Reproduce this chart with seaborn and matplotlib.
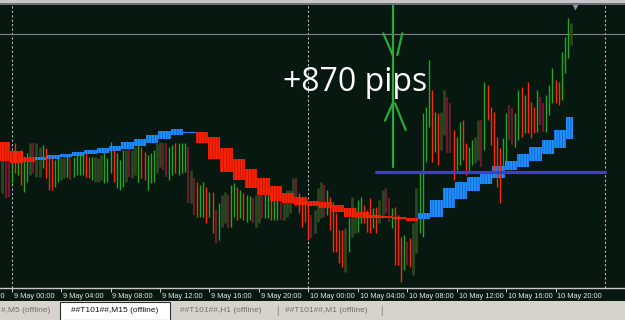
import matplotlib
matplotlib.use("Agg")
import matplotlib.pyplot as plt
import matplotlib.transforms as mtransforms
from matplotlib.patches import Rectangle
import numpy as np
import pandas as pd
import seaborn as sns

# ---------------- data ----------------
# M15 bars, index 0 = 9 May 00:00
first_bar = -3
bar_kind = list(
    "dmmgrgrggd" "mddgrrrggd" "dgmggggrrg" "dddgggrggg" "dmddgrrggg"
    "ddmmggrggg" "mdmrggrgrm" "gddmggrgrg" "gmddmggrgg" "mddddmrrrr"
    "mdddmgrrrr" "rdgddggrrr" "grddmmgrrr" "gmrddggggr" "grddmmrggr"
    "rggddmgrrr" "rrggmmggrg" "rrrgmmgggr" "rgggd"
)
bar_high = [
    140, 140, 140, 143, 157, 147, 150, 140, 147, 157,
    157, 157, 153, 155, 152, 143, 142, 140, 143, 142,
    143, 145, 143, 143, 147, 148, 148, 147, 143, 143,
    143, 142, 145, 148, 142, 158, 150, 147, 140, 150,
    150, 152, 150, 153, 155, 153, 148, 145, 147, 150,
    157, 158, 157, 157, 153, 155, 157, 157, 157, 157,
    153, 130, 122, 118, 115, 118, 113, 108, 108, 90,
    97, 105, 108, 105, 115, 117, 113, 110, 107, 105,
    104, 102, 105, 107, 105, 107, 110, 107, 108, 103,
    107, 105, 110, 110, 122, 122, 107, 103, 100, 98,
    85, 90, 112, 118, 115, 110, 103, 98, 87, 70,
    70, 72, 82, 103, 93, 100, 103, 95, 90, 102,
    92, 93, 100, 110, 112, 102, 92, 93, 85, 63,
    65, 58, 62, 77, 112, 127, 187, 193, 240, 210,
    188, 187, 188, 210, 203, 197, 170, 163, 178, 180,
    157, 153, 160, 163, 180, 180, 218, 215, 193, 188,
    163, 152, 162, 187, 195, 192, 187, 210, 213, 205,
    218, 198, 193, 210, 203, 197, 205, 215, 232, 220,
    218, 248, 263, 282, 277,
]
bar_low = [
    107, 102, 103, 117, 127, 125, 115, 108, 118, 125,
    127, 123, 123, 132, 122, 110, 110, 113, 118, 120,
    122, 123, 120, 123, 125, 125, 125, 123, 122, 120,
    118, 118, 120, 117, 118, 127, 118, 112, 110, 113,
    118, 123, 122, 125, 118, 122, 120, 110, 117, 118,
    127, 133, 130, 123, 120, 125, 127, 125, 127, 128,
    97, 97, 85, 83, 83, 83, 77, 83, 67, 57,
    60, 73, 77, 72, 73, 83, 80, 82, 80, 78,
    80, 77, 73, 77, 82, 82, 82, 80, 80, 80,
    80, 80, 83, 87, 97, 93, 87, 73, 78, 60,
    62, 67, 78, 82, 83, 85, 70, 48, 48, 37,
    33, 28, 48, 63, 67, 68, 77, 77, 68, 67,
    72, 67, 77, 82, 87, 78, 72, 35, 35, 18,
    30, 35, 33, 25, 47, 67, 63, 138, 173, 138,
    148, 135, 150, 165, 147, 147, 120, 130, 135, 140,
    125, 127, 135, 137, 140, 133, 150, 180, 155, 130,
    113, 97, 133, 133, 160, 155, 153, 160, 163, 167,
    167, 162, 167, 168, 175, 168, 168, 185, 197, 197,
    195, 200, 227, 242, 255,
]

# H1 smoothed blocks (hour index, 0 = 9 May 00:00)
first_block = -1
block_dir = list("ddd" "uuuuuuuuuuuuu" "dddddddddddddddddd" "uuuuuuuuuuuuu")
block_high = [158, 149, 143,
              143, 145, 146, 148, 150, 152, 154, 158, 161, 165, 169, 171, 168.5,
              168, 163, 152, 141, 131, 122, 114, 107, 103, 99, 98, 95, 92, 88, 85, 84, 83, 82,
              87, 100, 112, 118, 123, 127, 134, 139, 146, 153, 160, 170, 183]
block_low = [139, 137, 138,
             140, 141, 143, 144, 146, 147, 149, 151, 154, 157, 161, 165, 167.5,
             157, 141, 128, 120, 112, 105, 99, 97, 95, 94, 92, 88, 83, 82, 82, 82, 81, 79,
             81, 83, 92, 101, 109, 116, 122, 130, 133, 139, 146, 152, 161]

tick_bars = [-16, 0, 16, 32, 48, 64, 80, 96, 112, 128, 144, 160, 176]
tick_labels = ["8 May 20:00", "9 May 00:00", "9 May 04:00", "9 May 08:00",
               "9 May 12:00", "9 May 16:00", "9 May 20:00", "10 May 00:00",
               "10 May 04:00", "10 May 08:00", "10 May 12:00", "10 May 16:00",
               "10 May 20:00"]
day_separators = [0, 96, 192]

level_price = 128.5          # support level (blue line)
level_start_bar = 118
level_end_bar = 192
top_price = 266              # current price line
arrow_bar = 123.3
arrow_low, arrow_high = 133, 295
gain_text = "+870 pips"
text_bar, text_price = 87.8, 209
shift_marker = (182.3, 293.5)

tab_names = ["#,M5 (offline)", "##T101##,M15 (offline)",
             "##T101##,H1 (offline)", "##T101##,M1 (offline)"]

# ---------------- style ----------------
BG = "#06180f"
sns.set_theme(style="dark", rc={"axes.facecolor": BG, "figure.facecolor": BG})
plt.rcParams["font.family"] = ["Liberation Sans", "DejaVu Sans"]
plt.rcParams["lines.scale_dashes"] = False
plt.rcParams["hatch.linewidth"] = 0.6

PX = 3.09  # pixels per bar

fig = plt.figure(figsize=(6.25, 3.2), dpi=100, facecolor=BG)
ax = fig.add_axes([0, 32 / 320, 1, 283 / 320])
ax.set_facecolor(BG)

# frame top
fig.patches.append(Rectangle((0, 1 - 3 / 320), 1, 3 / 320, transform=fig.transFigure,
                             facecolor="#c8c8c8", edgecolor="none", zorder=0))
fig.patches.append(Rectangle((0, 1 - 5 / 320), 1, 2 / 320, transform=fig.transFigure,
                             facecolor="#6e6e7e", edgecolor="none", zorder=0))

# separators and price line
for s in day_separators:
    ax.axvline(s, color="#b4b4b4", lw=0.8, ls=(0, (1.6, 1.6)), zorder=1)
sns.lineplot(x=[-10, 210], y=[top_price, top_price], ax=ax, color="#80808e",
             lw=0.8, zorder=1, legend=False)

# bars
x = np.arange(first_bar, first_bar + len(bar_kind))
hi = np.array(bar_high, float)
lo = np.array(bar_low, float)
kind = np.array(bar_kind)
styles = {
    "d": ("#2b4620", 2.0, 2),
    "m": ("#6a1a2c", 1.6, 2),
    "g": ("#27a327", 1.0, 2),
    "r": ("#ff2a00", 1.0, 4),
}
for k, (c, w, z) in styles.items():
    m = kind == k
    ax.vlines(x[m], lo[m], hi[m], colors=c, linewidth=w, zorder=z)

# blocks
last_bar = first_bar + len(bar_kind) - 1
for i, (d, h, l) in enumerate(zip(block_dir, block_high, block_low)):
    hr = first_block + i
    left = 4 * hr - 0.5
    right = min(4 * hr + 3.5, last_bar + 0.5)
    if d == "u":
        fc, hc = "#1e90ff", "#1462c4"
    else:
        fc, hc = "#ff2200", "#b81800"
    ax.bar(left, h - l, width=right - left, bottom=l, align="edge",
           color=fc, edgecolor=hc, linewidth=0, hatch="||||||", zorder=3)

# level line
sns.lineplot(x=[level_start_bar, level_end_bar], y=[level_price, level_price], ax=ax,
             color="#3e3ed0", lw=2.3, zorder=5, legend=False)

# measuring arrow
GREEN = "#2aa83a"
ax.plot([arrow_bar, arrow_bar], [arrow_low, arrow_high], color=GREEN, lw=1.6, zorder=6)
def px_pt(dx, y):
    return arrow_bar + dx / PX, 300 - y
for seg in [((-9.4, 33.3), (0, 55)), ((9.6, 33.3), (4.6, 55)),
            ((0, 103.3), (-7.7, 120.7)), ((2.3, 103.3), (13, 130))]:
    (x0, y0), (x1, y1) = px_pt(*seg[0]), px_pt(*seg[1])
    ax.plot([x0, x1], [y0, y1], color=GREEN, lw=1.6, zorder=6, solid_capstyle="round")

ax.text(text_bar, text_price, gain_text, color="white", fontsize=23,
        family=["Open Sans", "DejaVu Sans"], ha="left", va="baseline", zorder=7)

ax.plot([shift_marker[0]], [shift_marker[1]], marker="v", ms=4.5, color="#8c98a8",
        mec="none", zorder=7, clip_on=False)

# axis
for sp in ["top", "left", "right"]:
    ax.spines[sp].set_visible(False)
ax.spines["bottom"].set_visible(True)
ax.spines["bottom"].set_color("#c8c8c8")
ax.spines["bottom"].set_linewidth(1.0)
ax.set_yticks([])
ax.set_xticks(tick_bars)
ax.tick_params(axis="x", bottom=True, length=3, width=0.7, color="#c8c8c8",
               direction="out", labelbottom=False)
ax.set_xlim(-11.7 / PX, (625 - 11.7) / PX)
ax.set_ylim(12, 295)
ax.set_xlabel("")
ax.set_ylabel("")

trans = mtransforms.blended_transform_factory(ax.transData, ax.transAxes)
for b, lab in zip(tick_bars, tick_labels):
    ax.text(b + 0.6, -0.029, lab, transform=trans, fontsize=5.3, color="#e6e6e6",
            ha="left", va="center", clip_on=False)

# tab bar
fig.patches.append(Rectangle((0, 0), 1, 19 / 320, transform=fig.transFigure,
                             facecolor="#d6d3cc", edgecolor="none", zorder=0))
fig.patches.append(Rectangle((60 / 625, 0), 110 / 625, 18 / 320, transform=fig.transFigure,
                             facecolor="white", edgecolor="#303030", linewidth=0.8, zorder=1))
ty = 9.5 / 320
fig.text(1 / 625, ty, tab_names[0], fontsize=6, color="#707070", ha="left", va="center")
fig.text(115 / 625, ty, tab_names[1], fontsize=6, color="#101010", ha="center", va="center")
fig.text(180 / 625, ty, tab_names[2], fontsize=6, color="#707070", ha="left", va="center")
fig.text(277 / 625, ty, "|", fontsize=7, color="#808080", ha="center", va="center")
fig.text(285 / 625, ty, tab_names[3], fontsize=6, color="#707070", ha="left", va="center")
fig.text(381 / 625, ty, "|", fontsize=7, color="#808080", ha="center", va="center")

fig.savefig("out.png", dpi=100, facecolor=fig.get_facecolor())
